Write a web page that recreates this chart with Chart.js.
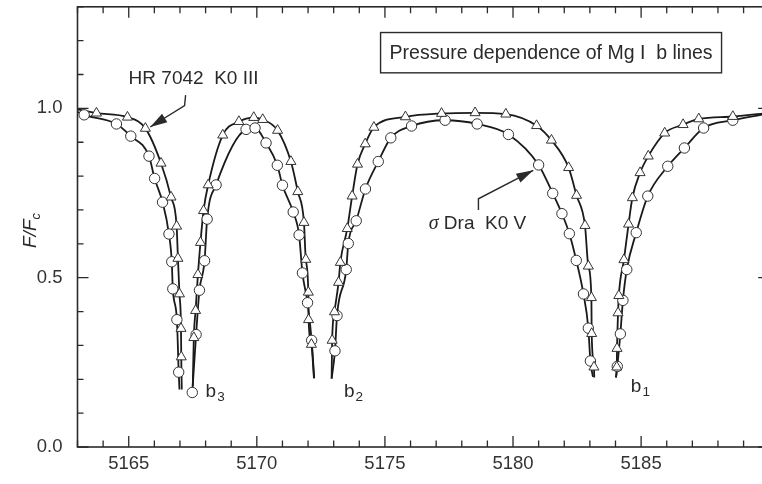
<!DOCTYPE html>
<html>
<head>
<meta charset="utf-8">
<script src="https://cdn.jsdelivr.net/npm/chart.js@4.4.0/dist/chart.umd.min.js"></script>
<style>
  html, body { margin: 0; padding: 0; background: #fff; overflow: hidden; }
  #wrap { width: 776px; height: 484px; }
</style>
</head>
<body>
<div id="wrap"><canvas id="chart" width="776" height="484"></canvas></div>
<script>
// HR 7042 (K0 III) - triangles
var giantWave = [5163.74, 5164.95, 5165.65, 5166.26, 5166.65, 5166.87, 5166.92, 5166.98, 5167.04, 5167.05,
  5167.54, 5167.61, 5167.70, 5167.80, 5167.92, 5168.10, 5168.67, 5169.30, 5169.88, 5170.23, 5170.81, 5171.33, 5171.60, 5171.84, 5171.91, 5172.01, 5172.02, 5172.13,
  5172.94, 5173.03, 5173.19, 5173.26, 5173.53, 5173.72, 5173.93, 5174.23, 5174.57, 5175.80, 5177.21, 5178.52, 5179.72, 5180.92, 5181.50, 5182.17, 5182.48, 5182.81, 5182.94, 5183.06, 5183.07, 5183.16,
  5184.05, 5184.06, 5184.10, 5184.13, 5184.33, 5184.51, 5184.66, 5184.96, 5185.28, 5185.92, 5186.64, 5187.25, 5188.58];
var giantFlux = [0.986, 0.974, 0.941, 0.838, 0.738, 0.652, 0.557, 0.452, 0.350, 0.266,
  0.323, 0.403, 0.509, 0.604, 0.698, 0.774, 0.921, 0.961, 0.973, 0.967, 0.935, 0.843, 0.754, 0.663, 0.554, 0.457, 0.376, 0.303,
  0.315, 0.399, 0.486, 0.545, 0.645, 0.741, 0.835, 0.895, 0.944, 0.975, 0.985, 0.987, 0.983, 0.949, 0.906, 0.825, 0.743, 0.654, 0.534, 0.441, 0.335, 0.236,
  0.236, 0.291, 0.396, 0.447, 0.553, 0.658, 0.736, 0.810, 0.859, 0.927, 0.952, 0.969, 0.976];
// where the giant's curve stops (no symbol)
var giantTipWave = [5163.0, 5167.07, 5167.50, 5172.23, 5172.92, 5183.17, 5184.02, 5190.0];
var giantTipFlux = [0.997, 0.170, 0.180, 0.203, 0.202, 0.205, 0.205, 0.987];

// sigma Dra (K0 V) - circles
var dwarfWave = [5163.26, 5164.52, 5165.08, 5165.79, 5166.01, 5166.32, 5166.57, 5166.68, 5166.72, 5166.88, 5166.95,
  5167.48, 5167.63, 5167.76, 5167.96, 5168.06, 5168.41, 5169.58, 5169.93, 5170.36, 5170.80, 5171.00, 5171.42, 5171.65, 5171.78, 5171.98, 5172.14,
  5173.05, 5173.13, 5173.49, 5173.57, 5173.88, 5174.24, 5174.74, 5175.23, 5176.04, 5177.35, 5178.60, 5179.82, 5181.00, 5181.55, 5181.91, 5182.20, 5182.47, 5182.75, 5182.94, 5183.02,
  5184.07, 5184.19, 5184.29, 5184.44, 5184.81, 5185.26, 5186.04, 5186.69, 5187.44, 5188.58];
var dwarfFlux = [0.981, 0.954, 0.918, 0.859, 0.793, 0.723, 0.629, 0.547, 0.467, 0.376, 0.221,
  0.161, 0.332, 0.463, 0.550, 0.673, 0.774, 0.938, 0.942, 0.898, 0.832, 0.773, 0.694, 0.626, 0.514, 0.426, 0.315,
  0.284, 0.388, 0.524, 0.601, 0.668, 0.762, 0.843, 0.913, 0.948, 0.965, 0.954, 0.923, 0.833, 0.749, 0.689, 0.630, 0.551, 0.452, 0.351, 0.254,
  0.238, 0.334, 0.433, 0.524, 0.633, 0.741, 0.829, 0.883, 0.942, 0.965];
var dwarfTipWave = [5163.0, 5166.98, 5172.24, 5172.92, 5183.12, 5184.02, 5190.0];
var dwarfTipFlux = [0.990, 0.170, 0.203, 0.202, 0.207, 0.206, 0.985];

// Mg I b line centres, the curves are broken there
var coreWave = [5167.3, 5172.6, 5183.6];
var coreName = ['3', '2', '1'];
var coreLabelWave = [5168.0, 5173.4, 5184.6];
var coreLabelFlux = [0.162, 0.162, 0.177];

var sans = 'Liberation Sans, Arial, Helvetica, sans-serif';
var ink = '#2a2a2a';

function points(wave, flux) {
  var out = [];
  for (var i = 0; i < wave.length; i++) out.push({ x: wave[i], y: flux[i] });
  return out;
}

// symbols + curve ends, sorted, with a gap at every line centre
function curve(wave, flux, tipWave, tipFlux) {
  var pts = points(wave, flux).concat(points(tipWave, tipFlux));
  for (var i = 0; i < coreWave.length; i++) pts.push({ x: coreWave[i], y: null });
  pts.sort(function (a, b) { return a.x - b.x; });
  return pts;
}

var frame = {
  id: 'frame',
  afterDraw: function (chart) {
    var ctx = chart.ctx, a = chart.chartArea, xs = chart.scales.x, ys = chart.scales.y;
    ctx.save();
    ctx.strokeStyle = ink;
    ctx.lineWidth = 1.6;
    ctx.strokeRect(a.left, a.top, a.right - a.left, a.bottom - a.top);
    ctx.lineWidth = 1.3;
    ctx.beginPath();
    xs.ticks.forEach(function (t) {
      var p = xs.getPixelForValue(t.value);
      var len = t.value % 5 === 0 ? 11 : 6.5;
      ctx.moveTo(p, a.bottom); ctx.lineTo(p, a.bottom - len);
      ctx.moveTo(p, a.top); ctx.lineTo(p, a.top + len);
    });
    ys.ticks.forEach(function (t) {
      var p = ys.getPixelForValue(t.value);
      var major = Math.abs(t.value * 2 - Math.round(t.value * 2)) < 1e-6;
      var len = major ? 11 : 6;
      ctx.moveTo(a.left, p); ctx.lineTo(a.left + len, p);
      ctx.moveTo(a.right, p); ctx.lineTo(a.right - len, p);
    });
    ctx.stroke();
    ctx.restore();
  }
};

function arrow(ctx, pts) {
  ctx.beginPath();
  ctx.moveTo(pts[0][0], pts[0][1]);
  for (var i = 1; i < pts.length; i++) ctx.lineTo(pts[i][0], pts[i][1]);
  ctx.stroke();
  var p = pts[pts.length - 2], q = pts[pts.length - 1];
  var ang = Math.atan2(q[1] - p[1], q[0] - p[0]);
  ctx.beginPath();
  ctx.moveTo(q[0], q[1]);
  ctx.lineTo(q[0] - 17 * Math.cos(ang) + 5 * Math.sin(ang), q[1] - 17 * Math.sin(ang) - 5 * Math.cos(ang));
  ctx.lineTo(q[0] - 17 * Math.cos(ang) - 5 * Math.sin(ang), q[1] - 17 * Math.sin(ang) + 5 * Math.cos(ang));
  ctx.closePath();
  ctx.fill();
}

var notes = {
  id: 'notes',
  afterDatasetsDraw: function (chart) {
    var ctx = chart.ctx, xs = chart.scales.x, ys = chart.scales.y;
    function X(v) { return xs.getPixelForValue(v); }
    function Y(v) { return ys.getPixelForValue(v); }
    ctx.save();
    ctx.fillStyle = ink;
    ctx.strokeStyle = ink;

    // title box
    var bx1 = X(5174.83), bx2 = X(5188.14), by1 = Y(1.224), by2 = Y(1.105);
    ctx.fillStyle = '#fff';
    ctx.fillRect(bx1, by1, bx2 - bx1, by2 - by1);
    ctx.fillStyle = ink;
    ctx.lineWidth = 1.4;
    ctx.strokeRect(bx1, by1, bx2 - bx1, by2 - by1);
    ctx.font = '19.5px ' + sans;
    ctx.textAlign = 'center';
    ctx.textBaseline = 'middle';
    ctx.fillText('Pressure dependence of Mg I  b lines', (bx1 + bx2) / 2, (by1 + by2) / 2 + 1);

    // star labels
    ctx.font = '19px ' + sans;
    ctx.fillText('HR 7042  K0 III', X(5167.53), Y(1.087));
    ctx.lineWidth = 1.4;
    arrow(ctx, [[X(5167.22), Y(1.039)], [X(5167.18), Y(1.008)], [X(5165.84), Y(0.945)]]);

    ctx.textAlign = 'left';
    ctx.font = 'italic 20px Liberation Serif, Times New Roman, serif';
    var sx = X(5176.71), sy = Y(0.660);
    ctx.fillText('\u03c3', sx, sy);
    var sw = ctx.measureText('\u03c3').width;
    ctx.font = '19px ' + sans;
    ctx.fillText(' Dra  K0 V', sx + sw, sy);
    arrow(ctx, [[X(5178.65), Y(0.700)], [X(5178.65), Y(0.733)], [X(5180.79), Y(0.817)]]);

    // b1, b2, b3
    for (var i = 0; i < coreName.length; i++) {
      var lx = X(coreLabelWave[i]), ly = Y(coreLabelFlux[i]);
      ctx.font = '19px ' + sans;
      ctx.fillText('b', lx, ly);
      var bw = ctx.measureText('b').width;
      ctx.font = '13.5px ' + sans;
      ctx.fillText(coreName[i], lx + bw + 1, ly + 5);
    }

    // y title F/Fc
    ctx.translate(36, 248);
    ctx.rotate(-Math.PI / 2);
    ctx.textBaseline = 'alphabetic';
    ctx.font = 'italic 19px ' + sans;
    ctx.fillText('F/F', 0, 0);
    var fw = ctx.measureText('F/F').width;
    ctx.font = 'italic 13px ' + sans;
    ctx.fillText('c', fw, 4);
    ctx.restore();
  }
};

new Chart(document.getElementById('chart'), {
  type: 'line',
  data: {
    datasets: [
      {
        label: 'HR 7042 K0 III',
        data: points(giantWave, giantFlux),
        showLine: false,
        pointStyle: 'triangle',
        pointRadius: 5.8,
        pointBackgroundColor: '#fff',
        pointBorderColor: '#333',
        pointBorderWidth: 1,
        order: 0
      },
      {
        label: 'sigma Dra K0 V',
        data: points(dwarfWave, dwarfFlux),
        showLine: false,
        pointStyle: 'circle',
        pointRadius: 5.2,
        pointBackgroundColor: '#fff',
        pointBorderColor: '#333',
        pointBorderWidth: 1,
        order: 0
      },
      {
        label: 'giant curve',
        data: curve(giantWave, giantFlux, giantTipWave, giantTipFlux),
        borderColor: '#1a1a1a',
        borderWidth: 1.8,
        pointRadius: 0,
        cubicInterpolationMode: 'monotone',
        spanGaps: false,
        order: 1
      },
      {
        label: 'dwarf curve',
        data: curve(dwarfWave, dwarfFlux, dwarfTipWave, dwarfTipFlux),
        borderColor: '#1a1a1a',
        borderWidth: 1.8,
        pointRadius: 0,
        cubicInterpolationMode: 'monotone',
        spanGaps: false,
        order: 1
      }
    ]
  },
  options: {
    responsive: false,
    animation: false,
    layout: { padding: { top: 3.5, right: 4, left: 0, bottom: 0 } },
    plugins: { legend: { display: false }, tooltip: { enabled: false } },
    scales: {
      x: {
        type: 'linear',
        min: 5163,
        max: 5190,
        grid: { display: false, drawTicks: false },
        border: { display: false },
        ticks: {
          stepSize: 1,
          autoSkip: false,
          maxRotation: 0,
          padding: 6,
          color: '#333',
          font: { family: sans, size: 18.5 },
          callback: function (v) { return v % 5 === 0 && v < this.max ? String(v) : ''; }
        },
        afterFit: function (s) { s.height = 37; s.paddingLeft = 0; s.paddingRight = 0; }
      },
      y: {
        type: 'linear',
        min: 0,
        max: 1.3,
        grid: { display: false, drawTicks: false },
        border: { display: false },
        ticks: {
          stepSize: 0.1,
          autoSkip: false,
          padding: 15,
          color: '#333',
          font: { family: sans, size: 18.5 },
          callback: function (v) { return Math.abs(v * 2 - Math.round(v * 2)) < 1e-6 ? v.toFixed(1) : ''; }
        },
        afterFit: function (s) { s.width = 77.5; s.paddingTop = 0; s.paddingBottom = 0; }
      }
    }
  },
  plugins: [frame, notes]
});
</script>
</body>
</html>
